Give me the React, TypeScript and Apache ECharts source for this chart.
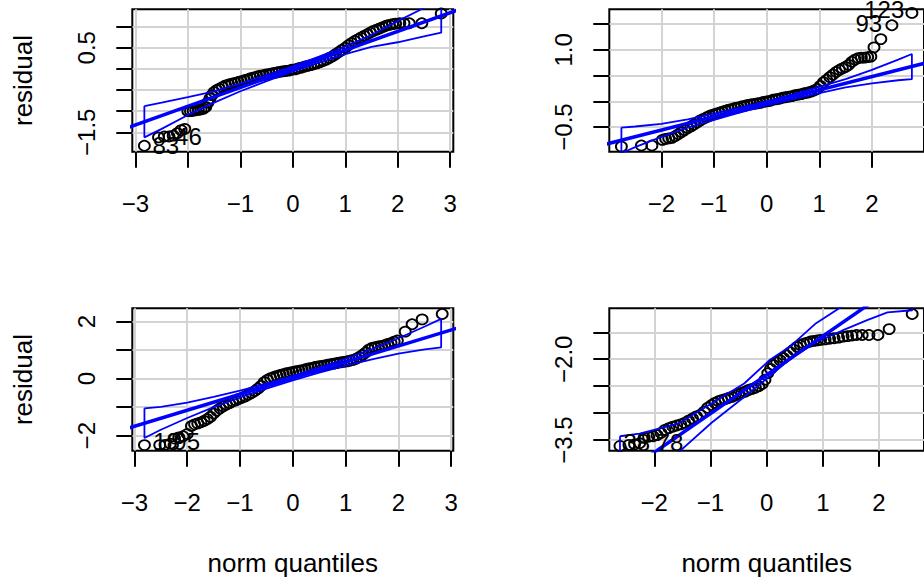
import React, { useEffect, useRef } from "react";
import * as echarts from "echarts";

// ---------- Panel 1 (top-left) ----------
const p1X = [-2.83, -2.56, -2.45, -2.36, -2.28, -2.2, -2.13, -2.06, -2.0, -1.95, -1.9, -1.85, -1.8, -1.75, -1.7, -1.66, -1.62, -1.58, -1.54, -1.5, -1.45, -1.4, -1.34, -1.28, -1.22, -1.16, -1.1, -1.04, -0.98, -0.92, -0.86, -0.8, -0.74, -0.68, -0.62, -0.56, -0.5, -0.44, -0.38, -0.32, -0.26, -0.2, -0.14, -0.08, -0.02, 0.04, 0.1, 0.16, 0.22, 0.28, 0.34, 0.4, 0.46, 0.52, 0.58, 0.64, 0.7, 0.76, 0.82, 0.88, 0.94, 1.0, 1.06, 1.12, 1.18, 1.24, 1.3, 1.36, 1.42, 1.48, 1.54, 1.6, 1.66, 1.72, 1.78, 1.84, 1.9, 1.96, 2.04, 2.12, 2.22, 2.46, 2.83];
const p1Y = [-1.82, -1.62, -1.6, -1.6, -1.58, -1.52, -1.45, -1.42, -1.0, -1.0, -0.99, -0.98, -0.97, -0.96, -0.94, -0.9, -0.8, -0.7, -0.62, -0.55, -0.5, -0.47, -0.43, -0.39, -0.37, -0.35, -0.33, -0.31, -0.29, -0.27, -0.25, -0.22, -0.2, -0.18, -0.16, -0.15, -0.13, -0.12, -0.1, -0.09, -0.07, -0.06, -0.05, -0.04, -0.02, -0.01, 0.01, 0.03, 0.05, 0.07, 0.09, 0.11, 0.13, 0.16, 0.19, 0.22, 0.26, 0.3, 0.35, 0.4, 0.45, 0.5, 0.56, 0.61, 0.66, 0.7, 0.74, 0.78, 0.82, 0.86, 0.9, 0.93, 0.96, 0.99, 1.02, 1.04, 1.06, 1.07, 1.08, 1.08, 1.08, 1.08, 1.31];
const p1EnvX = [-2.83, -2.5, -2.0, -1.5, -1.0, -0.5, 0, 0.5, 1.0, 1.5, 2.0, 2.5, 2.83];
const p1EnvUpper = [-0.88, -0.8, -0.67, -0.53, -0.35, -0.15, 0.06, 0.29, 0.53, 0.8, 1.13, 1.44, 1.65];
const p1EnvLower = [-1.62, -1.42, -1.09, -0.8, -0.53, -0.29, -0.06, 0.15, 0.35, 0.52, 0.63, 0.77, 0.86];
const p1LineX = [-3.5, 3.5];
const p1LineY = [-1.55, 1.55];
const p1IdX = [-2.42, -1.99];
const p1IdY = [-1.82, -1.6];
const p1IdText = ["83", "46"];

// ---------- Panel 2 (top-right) ----------
const p2X = [-2.76, -2.38, -2.18, -1.98, -1.92, -1.86, -1.8, -1.74, -1.68, -1.62, -1.56, -1.5, -1.44, -1.38, -1.32, -1.26, -1.2, -1.14, -1.08, -1.02, -0.96, -0.9, -0.84, -0.78, -0.72, -0.66, -0.6, -0.54, -0.48, -0.42, -0.36, -0.3, -0.24, -0.18, -0.12, -0.06, 0.0, 0.06, 0.12, 0.18, 0.24, 0.3, 0.36, 0.42, 0.48, 0.54, 0.6, 0.66, 0.72, 0.78, 0.84, 0.9, 0.96, 1.02, 1.08, 1.14, 1.2, 1.26, 1.32, 1.38, 1.44, 1.5, 1.56, 1.62, 1.68, 1.74, 1.8, 1.86, 1.92, 1.98, 2.04, 2.17, 2.38, 2.76];
const p2Y = [-0.88, -0.86, -0.86, -0.75, -0.73, -0.72, -0.71, -0.68, -0.64, -0.6, -0.56, -0.52, -0.49, -0.45, -0.41, -0.37, -0.34, -0.31, -0.28, -0.26, -0.24, -0.22, -0.2, -0.18, -0.16, -0.15, -0.13, -0.12, -0.1, -0.09, -0.07, -0.06, -0.05, -0.04, -0.03, -0.01, 0.0, 0.01, 0.03, 0.04, 0.05, 0.07, 0.08, 0.09, 0.1, 0.12, 0.13, 0.14, 0.16, 0.17, 0.19, 0.21, 0.24, 0.3, 0.37, 0.42, 0.47, 0.52, 0.57, 0.61, 0.64, 0.67, 0.71, 0.77, 0.81, 0.84, 0.85, 0.85, 0.86, 0.87, 1.05, 1.21, 1.48, 1.72];
const p2EnvX = [-2.76, -2.5, -2.0, -1.5, -1.0, -0.5, 0, 0.5, 1.0, 1.5, 2.0, 2.5, 2.76];
const p2EnvUpper = [-0.51, -0.49, -0.44, -0.35, -0.24, -0.125, 0.0, 0.135, 0.28, 0.43, 0.61, 0.81, 0.92];
const p2EnvLower = [-1.01, -0.89, -0.69, -0.51, -0.36, -0.215, -0.08, 0.045, 0.16, 0.27, 0.35, 0.41, 0.43];
const p2LineX = [-3.5, 3.5];
const p2LineY = [-0.95, 0.87];
const p2IdX = [2.235, 1.94];
const p2IdY = [1.79, 1.52];
const p2IdText = ["123", "93"];

// ---------- Panel 3 (bottom-left) ----------
const p3X = [-2.81, -2.52, -2.42, -2.32, -2.24, -2.16, -2.08, -2.0, -1.92, -1.86, -1.8, -1.74, -1.68, -1.62, -1.56, -1.5, -1.44, -1.38, -1.32, -1.26, -1.2, -1.14, -1.08, -1.02, -0.96, -0.9, -0.84, -0.78, -0.72, -0.66, -0.6, -0.54, -0.48, -0.42, -0.36, -0.3, -0.24, -0.18, -0.12, -0.06, 0.0, 0.06, 0.12, 0.18, 0.24, 0.3, 0.36, 0.42, 0.48, 0.54, 0.6, 0.66, 0.72, 0.78, 0.84, 0.9, 0.96, 1.02, 1.08, 1.14, 1.2, 1.26, 1.32, 1.38, 1.44, 1.5, 1.56, 1.62, 1.68, 1.74, 1.8, 1.86, 1.92, 1.98, 2.13, 2.26, 2.45, 2.83];
const p3Y = [-2.33, -2.33, -2.32, -2.28, -2.1, -2.06, -2.02, -1.94, -1.66, -1.6, -1.57, -1.53, -1.48, -1.42, -1.34, -1.22, -1.12, -1.04, -0.97, -0.91, -0.86, -0.8, -0.76, -0.71, -0.67, -0.62, -0.56, -0.5, -0.43, -0.35, -0.25, -0.12, -0.04, 0.02, 0.06, 0.1, 0.13, 0.16, 0.19, 0.21, 0.24, 0.26, 0.28, 0.3, 0.33, 0.36, 0.38, 0.41, 0.43, 0.45, 0.47, 0.49, 0.51, 0.53, 0.55, 0.57, 0.59, 0.61, 0.63, 0.66, 0.7, 0.76, 0.83, 0.92, 1.02, 1.08, 1.11, 1.13, 1.15, 1.18, 1.22, 1.25, 1.3, 1.34, 1.65, 1.91, 2.08, 2.27];
const p3EnvX = [-2.81, -2.5, -2.0, -1.5, -1.0, -0.5, 0, 0.5, 1.0, 1.5, 2.0, 2.5, 2.81];
const p3EnvUpper = [-1.04, -0.99, -0.84, -0.64, -0.42, -0.17, 0.1, 0.39, 0.7, 1.04, 1.42, 1.83, 2.1];
const p3EnvLower = [-2.08, -1.79, -1.38, -1.0, -0.66, -0.35, -0.06, 0.21, 0.46, 0.68, 0.88, 1.03, 1.1];
const p3LineX = [-3.5, 3.5];
const p3LineY = [-1.95, 1.99];
const p3IdX = [-2.39, -2.01];
const p3IdY = [-2.19, -2.19];
const p3IdText = ["18", "95"];

// ---------- Panel 4 (bottom-right) ----------
const p4X = [-2.61, -2.45, -2.35, -2.26, -2.18, -2.1, -2.02, -1.95, -1.88, -1.81, -1.74, -1.67, -1.6, -1.53, -1.46, -1.39, -1.32, -1.25, -1.18, -1.11, -1.05, -0.98, -0.92, -0.86, -0.8, -0.74, -0.68, -0.62, -0.56, -0.5, -0.44, -0.38, -0.32, -0.26, -0.2, -0.14, -0.08, -0.03, 0.02, 0.07, 0.12, 0.18, 0.24, 0.3, 0.36, 0.42, 0.48, 0.54, 0.6, 0.66, 0.72, 0.78, 0.84, 0.9, 0.96, 1.04, 1.12, 1.2, 1.28, 1.36, 1.44, 1.52, 1.6, 1.7, 1.82, 1.98, 2.18, 2.59];
const p4Y = [-3.61, -3.59, -3.58, -3.56, -3.46, -3.44, -3.43, -3.41, -3.37, -3.31, -3.28, -3.25, -3.23, -3.21, -3.18, -3.14, -3.1, -3.06, -3.03, -2.97, -2.9, -2.85, -2.81, -2.78, -2.76, -2.74, -2.72, -2.7, -2.67, -2.65, -2.62, -2.6, -2.57, -2.55, -2.53, -2.5, -2.46, -2.38, -2.26, -2.18, -2.11, -2.06, -2.02, -1.98, -1.93, -1.87, -1.82, -1.77, -1.74, -1.71, -1.69, -1.67, -1.66, -1.65, -1.64, -1.63, -1.62, -1.61, -1.6, -1.58, -1.57, -1.56, -1.55, -1.55, -1.55, -1.55, -1.44, -1.16];
const p4EnvX = [-2.61, -2.26, -1.56, -0.98, -0.4, 0.06, 0.41, 0.88, 1.34, 1.8, 2.15, 2.59];
const p4EnvUpper = [-3.43, -3.38, -3.19, -2.82, -2.45, -2.01, -1.77, -1.33, -1.02, -0.62, -0.3, 0.1];
const p4EnvLower = [-4.7, -4.3, -3.72, -3.18, -2.7, -2.31, -2.0, -1.68, -1.47, -1.27, -1.13, -1.09];
const p4LineX = [-3.5, 3.5];
const p4LineY = [-4.81, 0.23];
const p4IdX = [-2.31, -1.72];
const p4IdY = [-3.54, -3.54];
const p4IdText = ["38", "78"];

// ---------- Axes: ranges, ticks, labels ----------
const xRanges = [[-3.06, 3.06], [-2.99, 2.99], [-3.04, 3.04], [-2.8, 2.8]];
const yRanges = [[-1.96, 1.41], [-0.98, 1.79], [-2.53, 2.47], [-3.7, -1.054]];
const xTicks = [[-3, -2, -1, 0, 1, 2, 3], [-2, -1, 0, 1, 2], [-3, -2, -1, 0, 1, 2, 3], [-2, -1, 0, 1, 2]];
const xTickLabels = [[-3, -1, 0, 1, 2, 3], [-2, -1, 0, 1, 2], [-3, -2, -1, 0, 1, 2, 3], [-2, -1, 0, 1, 2]];
const yTicks = [[-1.5, -1, -0.5, 0, 0.5, 1], [-0.5, 0, 0.5, 1, 1.5], [-2, -1, 0, 1, 2], [-3.5, -3, -2.5, -2, -1.5]];
const yTickLabels = [[-1.5, 0.5], [-0.5, 1.0], [-2, 0, 2], [-3.5, -2.0]];
const yDecimals = [1, 1, 0, 1];
const xTitles = ["", "", "norm quantiles", "norm quantiles"];
const yTitles = ["residual", "", "residual", ""];

const FONT = "'Liberation Sans', Arial, Helvetica, sans-serif";
const BLUE = "#0000FF";
const GRIDCOL = "#D3D3D3";

const fmt = (d: number) => (v: number) => Number(v).toFixed(d).replace("-", "\u2212");
const zip = (a: number[], b: number[]) => a.map((v, i) => [v, b[i]]);

const panels = [
  { x: p1X, y: p1Y, ex: p1EnvX, eu: p1EnvUpper, el: p1EnvLower, lx: p1LineX, ly: p1LineY, ix: p1IdX, iy: p1IdY, it: p1IdText },
  { x: p2X, y: p2Y, ex: p2EnvX, eu: p2EnvUpper, el: p2EnvLower, lx: p2LineX, ly: p2LineY, ix: p2IdX, iy: p2IdY, it: p2IdText },
  { x: p3X, y: p3Y, ex: p3EnvX, eu: p3EnvUpper, el: p3EnvLower, lx: p3LineX, ly: p3LineY, ix: p3IdX, iy: p3IdY, it: p3IdText },
  { x: p4X, y: p4Y, ex: p4EnvX, eu: p4EnvUpper, el: p4EnvLower, lx: p4LineX, ly: p4LineY, ix: p4IdX, iy: p4IdY, it: p4IdText },
];

const gridRects = [
  { left: 132.3, top: 9.3, width: 321, height: 142.4 },
  { left: 609.3, top: 9.3, width: 321.7, height: 142.4 },
  { left: 132.3, top: 308.3, width: 321, height: 142.5 },
  { left: 609.3, top: 308.3, width: 321.7, height: 142.5 },
];

function buildOption() {
  const grid = gridRects.map((g) => ({
    ...g,
    show: true,
    borderColor: "#000",
    borderWidth: 2,
    backgroundColor: "transparent",
    containLabel: false,
  }));

  const xAxis = panels.map((_, i) => ({
    type: "value",
    gridIndex: i,
    position: "bottom",
    min: xRanges[i][0],
    max: xRanges[i][1],
    axisLine: { show: false, onZero: false },
    axisTick: { show: true, inside: false, length: 16, customValues: xTicks[i], lineStyle: { color: "#000", width: 2 } },
    axisLabel: { show: true, customValues: xTickLabels[i], margin: 40, fontSize: 24, color: "#000", fontFamily: FONT, formatter: fmt(0) },
    splitLine: { show: true, lineStyle: { color: GRIDCOL, width: 2 } },
    name: xTitles[i],
    nameLocation: "middle",
    nameGap: 99,
    nameTextStyle: { fontSize: 26, color: "#000", fontFamily: FONT },
  }));

  const yAxis = panels.map((_, i) => ({
    type: "value",
    gridIndex: i,
    position: "left",
    min: yRanges[i][0],
    max: yRanges[i][1],
    axisLine: { show: false, onZero: false },
    axisTick: { show: true, inside: false, length: 16, customValues: yTicks[i], lineStyle: { color: "#000", width: 2 } },
    axisLabel: { show: true, customValues: yTickLabels[i], rotate: 90, margin: 34, fontSize: 24, color: "#000", fontFamily: FONT, formatter: fmt(yDecimals[i]) },
    splitLine: { show: true, lineStyle: { color: GRIDCOL, width: 2 } },
    name: yTitles[i],
    nameLocation: "middle",
    nameRotate: 90,
    nameGap: 96,
    nameTextStyle: { fontSize: 26, color: "#000", fontFamily: FONT },
  }));

  const series: any[] = [];
  panels.forEach((p, i) => {
    series.push({
      type: "scatter",
      xAxisIndex: i,
      yAxisIndex: i,
      data: zip(p.x, p.y),
      symbol: "circle",
      symbolSize: [11, 10],
      itemStyle: { color: "rgba(0,0,0,0)", borderColor: "#000", borderWidth: 1.8, opacity: 1 },
      z: 2,
      silent: true,
    });
    const envUpper = zip(p.ex, p.eu);
    const envLower = zip(p.ex, p.el).reverse();
    series.push({
      type: "line",
      xAxisIndex: i,
      yAxisIndex: i,
      data: [...envUpper, ...envLower, envUpper[0]],
      symbol: "none",
      lineStyle: { color: BLUE, width: 1.8 },
      z: 3,
      clip: true,
      silent: true,
    });
    series.push({
      type: "line",
      xAxisIndex: i,
      yAxisIndex: i,
      data: zip(p.lx, p.ly),
      symbol: "none",
      lineStyle: { color: BLUE, width: 3.5 },
      z: 4,
      clip: true,
      silent: true,
    });
    series.push({
      type: "scatter",
      xAxisIndex: i,
      yAxisIndex: i,
      data: p.ix.map((x, k) => ({ value: [x, p.iy[k]], name: p.it[k] })),
      symbolSize: 0,
      clip: false,
      itemStyle: { opacity: 1 },
      label: {
        show: true,
        position: "inside",
        formatter: (params: any) => params.name,
        fontSize: 24,
        color: "#000",
        opacity: 1,
        fontFamily: FONT,
      },
      z: 5,
      silent: true,
    });
  });

  return {
    animation: false,
    backgroundColor: "#fff",
    textStyle: { fontFamily: FONT },
    grid,
    xAxis,
    yAxis,
    series,
  };
}

export default function App() {
  const ref = useRef<HTMLDivElement | null>(null);
  useEffect(() => {
    if (!ref.current) return;
    const chart = echarts.init(ref.current, undefined, { renderer: "svg" });
    chart.setOption(buildOption() as any);
    return () => chart.dispose();
  }, []);
  return (
    <div style={{ position: "fixed", left: 0, top: 0, width: 924, height: 581, overflow: "hidden", background: "#fff" }}>
      <div ref={ref} style={{ width: 924, height: 581 }} />
    </div>
  );
}
